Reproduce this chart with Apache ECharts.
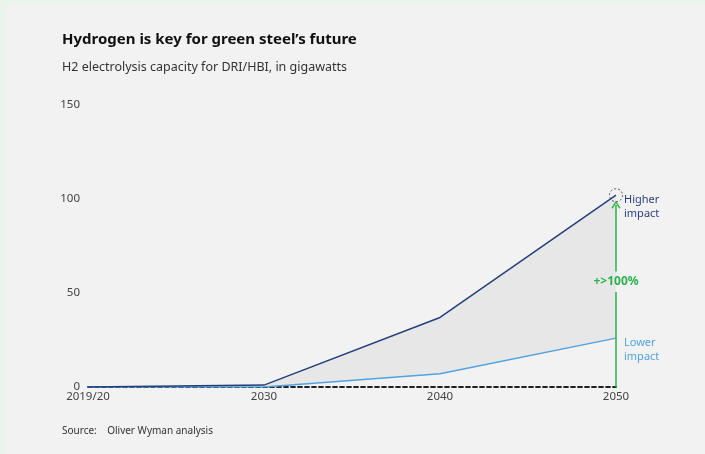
<!DOCTYPE html>
<html><head><meta charset="utf-8">
<script src="https://cdn.jsdelivr.net/npm/echarts@6/dist/echarts.min.js"></script>
<style>
html,body{margin:0;padding:0;background:#e9f5ec;}
#c{position:absolute;left:5px;top:5px;width:700px;height:449px;background:#f2f2f2;}
</style></head>
<body><div id="c"></div>
<script>
const categories = ['2019/20','2030','2040','2050'];
const higherImpact = [0, 1, 37, 102];
const lowerImpact = [0, 0, 7, 26];
const yTicks = [0, 50, 100, 150];
const arrowTop = 97;
const arrowGapLow = 50.5;
const arrowGapHigh = 61.5;
const arrowLabelValue = 56;
const arrowLabel = '+>100%';

const diff = higherImpact.map((v,i)=>v-lowerImpact[i]);
const font = '"Noto Sans", "Open Sans", sans-serif';
const last = categories.length-1;

const chart = echarts.init(document.getElementById('c'), null, {renderer:'canvas'});
chart.setOption({
  backgroundColor:'#f2f2f2',
  textStyle:{fontFamily:font},
  animation:false,
  title:[
    {text:'Hydrogen is key for green steel\u2019s future', left:52, top:22,
     textStyle:{fontFamily:font, fontSize:15, fontWeight:'bold', color:'#111'}},
    {text:'H2 electrolysis capacity for DRI/HBI, in gigawatts', left:52, top:51,
     textStyle:{fontFamily:font, fontSize:12.5, fontWeight:'normal', color:'#333'}},
    {text:'Source:    Oliver Wyman analysis', left:52, top:416,
     textStyle:{fontFamily:font, fontSize:10, fontWeight:'normal', color:'#333'}}
  ],
  grid:{left:83, right:89, top:100, bottom:67},
  xAxis:{type:'category', data:categories, boundaryGap:false,
    axisTick:{show:false},
    axisLine:{show:true, lineStyle:{color:'#222', width:1.8, type:[4,3]}},
    axisLabel:{color:'#444', fontSize:11.5, margin:4, fontFamily:font},
    splitLine:{show:false}},
  yAxis:{type:'value', min:yTicks[0], max:yTicks[yTicks.length-1], interval:50,
    axisLine:{show:false}, axisTick:{show:false}, splitLine:{show:false},
    axisLabel:{color:'#444', fontSize:11.5, margin:8, fontFamily:font}},
  series:[
    {type:'line', data:lowerImpact, stack:'band', symbol:'none',
     lineStyle:{opacity:0}, silent:true},
    {type:'line', data:diff, stack:'band', symbol:'none',
     lineStyle:{opacity:0}, areaStyle:{color:'#e7e7e7', opacity:1}, silent:true},
    {type:'line', data:lowerImpact, symbol:'none', z:3,
     lineStyle:{color:'#4fa3e0', width:1.5},
     endLabel:{show:true, formatter:'Lower\nimpact', color:'#4fa3e0', fontSize:11,
       lineHeight:14, distance:8, offset:[0,12], fontFamily:font}},
    {type:'line', data:higherImpact, symbol:'none', z:4,
     lineStyle:{color:'#24407a', width:1.5},
     endLabel:{show:true, formatter:'Higher\nimpact', color:'#2b3f7e', fontSize:11,
       lineHeight:14, distance:8, offset:[0,12], fontFamily:font},
     markLine:{silent:true,
       lineStyle:{color:'#2bb24c', width:1.5, type:'solid'},
       label:{show:false},
       data:[
         [{coord:[last,0], symbol:'none'},{coord:[last,arrowGapLow], symbol:'none'}],
         [{coord:[last,arrowGapHigh], symbol:'none'},
          {coord:[last,arrowTop], symbol:'path://M5,0 L10,7 L8.6,8 L5,2.4 L1.4,8 L0,7 Z', symbolSize:[9,8]}]
       ]},
     markPoint:{silent:true, data:[
       {coord:[last, higherImpact[last]], symbol:'circle', symbolSize:13,
        itemStyle:{color:'rgba(0,0,0,0)', borderColor:'#555', borderWidth:1, borderType:[2,2]},
        label:{show:false}},
       {coord:[last, arrowLabelValue], symbol:'circle', symbolSize:0,
        label:{show:true, formatter:arrowLabel, position:'inside', color:'#2bb24c',
          fontWeight:'bold', fontSize:12, fontFamily:font}}
     ]}
    }
  ]
});
</script></body></html>
